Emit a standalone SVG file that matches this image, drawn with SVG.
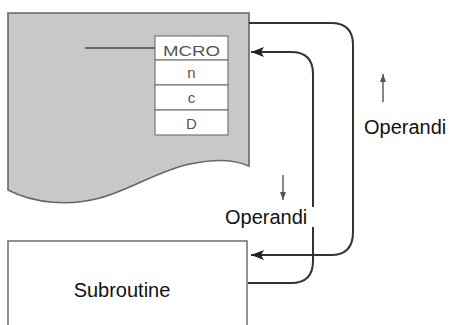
<svg xmlns="http://www.w3.org/2000/svg" width="454" height="325" viewBox="0 0 454 325">
  <defs>
    <style>
      .lbl { font-family: "Liberation Sans", Arial, sans-serif; fill: #111; }
      .cell { fill: #fff; stroke: #777; stroke-width: 1.2; }
      .ctext { font-family: "Liberation Sans", Arial, sans-serif; font-size: 15px; fill: #555; text-anchor: middle; }
      .conn { fill: none; stroke: #333; stroke-width: 2; }
      .small { fill: none; stroke: #555; stroke-width: 1.4; }
    </style>
    <marker id="ah" viewBox="0 0 13 10" refX="13" refY="5" markerWidth="13" markerHeight="10" markerUnits="userSpaceOnUse" orient="auto">
      <path d="M0,0 L13,5 L0,10 L3,5 Z" fill="#222"/>
    </marker>
    <marker id="sa" viewBox="0 0 8 6" refX="8" refY="3" markerWidth="8" markerHeight="6" markerUnits="userSpaceOnUse" orient="auto">
      <path d="M0,0 L8,3 L0,6 Z" fill="#555"/>
    </marker>
  </defs>
  <rect width="454" height="325" fill="#fff"/>

  <g id="program">
    <path d="M8,13 H249 V166 C230,158 210,160 190,164 C160,170 130,190 100,198 C70,206 35,204 8,190 Z" fill="#c8c8c8" stroke="#666" stroke-width="1.6"/>
    <line x1="85" y1="48" x2="155" y2="48" stroke="#444" stroke-width="1.5"/>
  </g>

  <g id="table">
    <rect class="cell" x="155" y="36" width="73" height="24"/>
    <rect class="cell" x="155" y="60" width="73" height="25"/>
    <rect class="cell" x="155" y="85" width="73" height="25"/>
    <rect class="cell" x="155" y="110" width="73" height="25"/>
    <text class="ctext" x="191.5" y="56" textLength="57" lengthAdjust="spacingAndGlyphs">MCRO</text>
    <text class="ctext" x="191.5" y="78">n</text>
    <text class="ctext" x="191.5" y="103">c</text>
    <text class="ctext" x="191.5" y="129">D</text>
  </g>

  <g id="subroutine">
    <rect x="8" y="241" width="239" height="100" fill="#fff" stroke="#777" stroke-width="1.6"/>
    <text class="lbl" x="122" y="297" font-size="20" text-anchor="middle">Subroutine</text>
  </g>

  <g id="connectors">
    <path class="conn" d="M249,23 H331 Q353,23 353,45 V232 Q353,255 331,255 H251" marker-end="url(#ah)"/>
    <path class="conn" d="M248,283 H291 Q313,283 313,261 V74 Q313,52 291,52 H251" marker-end="url(#ah)"/>
  </g>

  <g id="label-up">
    <line class="small" x1="383" y1="102" x2="383" y2="74" marker-end="url(#sa)"/>
    <text class="lbl" x="364" y="134" font-size="20">Operandi</text>
  </g>

  <g id="label-down">
    <rect x="222" y="207" width="93" height="20" fill="#fff"/>
    <line class="small" x1="283" y1="175" x2="283" y2="200" marker-end="url(#sa)"/>
    <text class="lbl" x="225" y="224" font-size="20">Operandi</text>
  </g>
</svg>
